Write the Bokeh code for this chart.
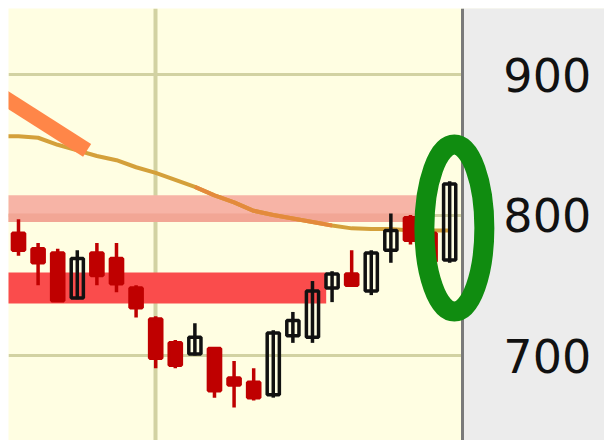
from bokeh.plotting import figure
from bokeh.models import FixedTicker, Grid, ColumnDataSource
from bokeh.core.properties import value
from bokeh.embed import file_html
from bokeh.resources import INLINE

# ---- data -------------------------------------------------------------
idx    = list(range(23))
opens  = [787, 776, 773, 741, 773, 769, 748, 726, 709, 701, 705, 684, 681, 672, 714, 713, 748, 758, 746, 775, 798, 787, 768]
closes = [775, 766, 739, 769, 757, 751, 734, 698, 693, 713, 675, 679, 670, 716, 725, 746, 758, 750, 773, 789, 782, 767, 822]
highs  = [797, 780, 776, 775, 780, 780, 750, 728, 711, 723, 706, 696, 691, 718, 731, 753, 760, 775, 775, 801, 800, 789, 824]
lows   = [771, 750, 738, 740, 750, 745, 727, 691, 691, 700, 670, 663, 668, 670, 709, 709, 738, 749, 743, 766, 779, 765, 766]

ma_x = list(range(-1, 23))
ma_y = [856, 856, 855, 850, 846, 842, 839, 834, 830, 825, 820, 814, 809, 803,
        800, 797.5, 795, 792.5, 790.5, 790, 790, 789, 789, 789]

trend_x = [-1, 3.5]
trend_y = [886, 846]

resist_band = (795, 814)      # light pink zone
support_band = (737, 759)     # red zone
support_end = 15.7
resist_end = 20.8

ring_center = (22.24, 790.7)
ring_size = (3.06, 119.0)

y_ticks = [700, 800, 900]
y_tick_labels = ["700", "800", "900"]
x_grid_ticks = [7]

axis_x = 22.65        # price-scale edge
label_x = 24.74       # tick label column

# ---- figure -----------------------------------------------------------
p = figure(width=604, height=440, x_range=(-0.51, 29.9), y_range=(639.5, 947),
           output_backend="svg", toolbar_location=None,
           x_axis_location=None, y_axis_location=None,
           min_border_left=8, min_border_top=8, min_border_bottom=0,
           min_border_right=0)
p.background_fill_color = "#fffee2"
p.border_fill_color = "white"
p.outline_line_color = None
for g in p.grid:
    g.visible = False

yg = Grid(dimension=1, ticker=FixedTicker(ticks=y_ticks),
          grid_line_color="#d2d2a2", grid_line_width=3)
xg = Grid(dimension=0, ticker=FixedTicker(ticks=x_grid_ticks),
          grid_line_color="#d2d2a2", grid_line_width=4)
p.add_layout(yg)
p.add_layout(xg)

# zones
p.quad(left=-1, right=resist_end, bottom=resist_band[0], top=resist_band[1],
       fill_color="#f7b4a6", line_color=None)
p.quad(left=-1, right=resist_end, bottom=resist_band[0], top=resist_band[0] + 6,
       fill_color="#ee9c8a", fill_alpha=0.6, line_color=None)
p.quad(left=-1, right=support_end, bottom=support_band[0], top=support_band[1],
       fill_color="#fa4c4c", line_color=None)

# moving average
p.line(ma_x, ma_y, line_color="#d4a03a", line_width=4)
p.line(ma_x[10:18], ma_y[10:18], line_color="#e48a3c", line_width=4)
# trend segment
p.line(trend_x, trend_y, line_color="#ff8648", line_width=15, line_cap="butt")

# candles
up = [c >= o for o, c in zip(opens, closes)]
src = ColumnDataSource(dict(
    x=idx, o=opens, c=closes, h=highs, l=lows,
    top=[max(o, c) for o, c in zip(opens, closes)],
    bot=[min(o, c) for o, c in zip(opens, closes)],
    col=["#111111" if u else "#bf0000" for u in up],
    fill=["#111111" if u else "#bf0000" for u in up],
    fa=[0.0 if u else 1.0 for u in up],
))
p.segment(x0="x", x1="x", y0="l", y1="h", source=src, line_color="col", line_width=3.5)
p.vbar(x="x", top="top", bottom="bot", width=0.62, source=src,
       fill_color="fill", fill_alpha="fa", line_color="col", line_width=3.5)

# price scale (right side)
p.quad(left=axis_x, right=40, bottom=0, top=2000, fill_color="#ececec", line_color=None)
p.vspan(x=[axis_x], line_color="#7a7a7a", line_width=3)
p.text(x=[label_x] * len(y_ticks), y=y_ticks, text=y_tick_labels,
       text_font=value("DejaVu Sans"), text_font_size="46px",
       text_color="#111111", text_align="left", text_baseline="middle")

# highlight ring
p.ellipse(x=[ring_center[0]], y=[ring_center[1]], width=ring_size[0], height=ring_size[1],
          fill_color=None, line_color="#108c10", line_width=20)

open("out.html", "w").write(file_html(p, INLINE))
